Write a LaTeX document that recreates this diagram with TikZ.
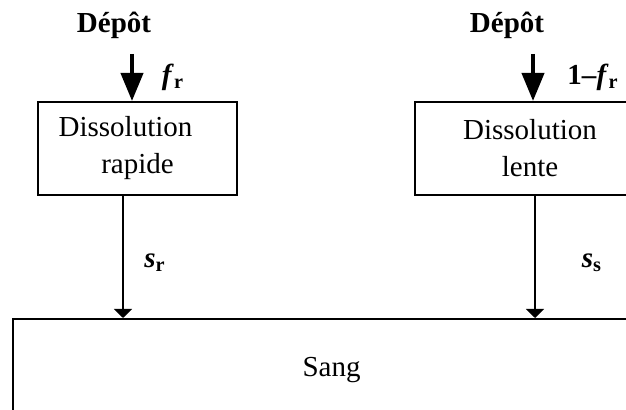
\documentclass[tikz,border=0pt]{standalone}
\usepackage{fontspec}
\setmainfont{Liberation Serif}
\usetikzlibrary{arrows.meta,positioning,calc}
\newcommand{\bfit}[1]{\textbf{\textit{#1}}}

\begin{document}
\begin{tikzpicture}[
  x=0.5pt, y=-0.5pt,
  font=\fontsize{14.5}{18.5}\selectfont,
  box/.style={draw, line width=1pt, align=center, inner sep=0pt, minimum height=46.5pt},
  rapidbox/.style={box, minimum width=99.5pt},
  slowbox/.style={box, minimum width=115pt},
  bloodbox/.style={box, minimum width=318.5pt, minimum height=51pt},
  depot/.style={font=\fontsize{14.5}{18.5}\selectfont\bfseries},
  rate/.style={inner sep=0pt},
  intake/.style={-{Triangle[width=11pt,length=14pt]}, line width=2pt},
  flow/.style={-{Triangle[width=9pt,length=4.5pt]}, line width=0.7pt}
]
\useasboundingbox (0,0) rectangle (626,410);
\clip (0,0) rectangle (626,410);

% compartments
\node[rapidbox] (rapide) at (137.5,148.5) {Dissolution\kern12pt\\rapide};
\node[slowbox] (lente) at (530,148.5) {Dissolution\\lente};
\node[bloodbox] (sang) at (331.5,370) {Sang};

% deposition
\node[depot] (deprap) at (114,25) {Dépôt};
\node[depot] (deplen) at (507,25) {Dépôt};
\coordinate (inrap) at (132,54);
\coordinate (inlen) at (533,54);
\draw[intake] (inrap) -- (inrap |- rapide.north);
\draw[intake] (inlen) -- (inlen |- lente.north);
\node[rate] (fr) at (173,77) {\bfit{f}\textsubscript{\textbf{r}}};
\node[rate] (onefr) at (593,77) {\textbf{1--}\bfit{f}\textsubscript{\textbf{r}}};

% transfer to blood
\draw[flow] ([xshift=-7.25pt]rapide.south) -- ([xshift=-7.25pt]rapide.south |- sang.north);
\draw[flow] ([xshift=2.5pt]lente.south) -- ([xshift=2.5pt]lente.south |- sang.north);
\node[rate] (sr) at (155,263) {\bfit{s}\textsubscript{\textbf{r}}};
\node[rate] (ss) at (592,263) {\bfit{s}\textsubscript{\textbf{s}}};
\end{tikzpicture}
\end{document}
